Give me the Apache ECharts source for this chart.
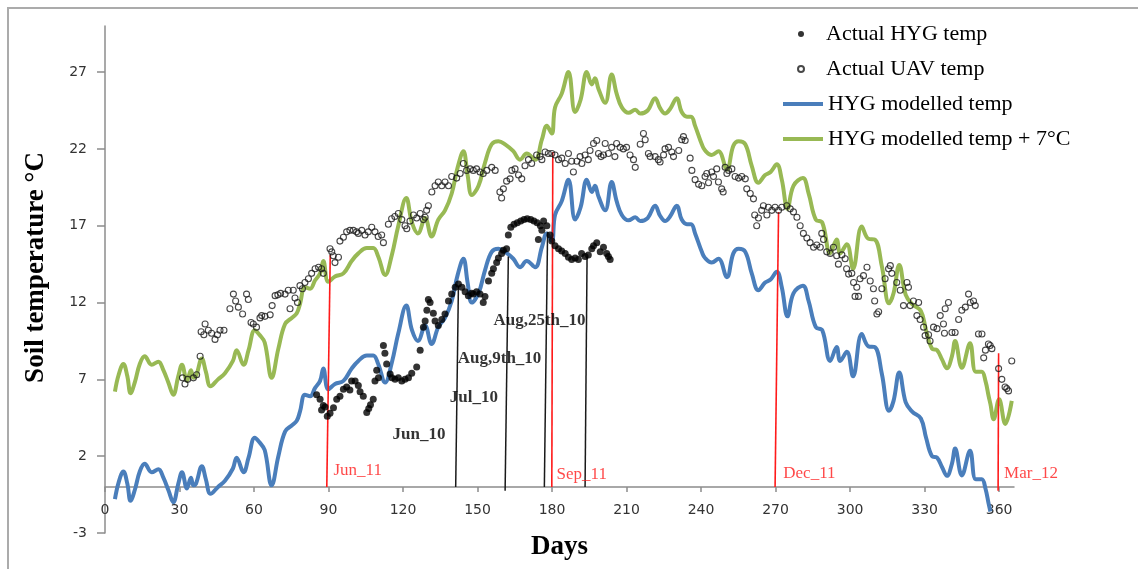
<!DOCTYPE html>
<html>
<head>
<meta charset="utf-8">
<script src="https://cdn.jsdelivr.net/npm/echarts@6/dist/echarts.min.js"></script>
<style>
  html, body { margin: 0; padding: 0; background: #ffffff; }
  #chart { width: 1138px; height: 569px; }
</style>
</head>
<body>
<div id="chart"></div>
<script>
// ---- Axis ticks ----
const dayTicks = [0, 30, 60, 90, 120, 150, 180, 210, 240, 270, 300, 330, 360];
const tempTicks = [-3, 2, 7, 12, 17, 22, 27];

// ---- Modelled soil temperature at the HYG site, [day, °C] ----
const hygModelled = [
  [4,-0.8],[5.5,0.3],[7.4,1.0],[9,0.2],[10.3,-0.9],[12,-0.2],[14,1.0],[16,1.5],[18.8,0.95],[21.5,1.15],
  [23.5,0.6],[25.5,-0.2],[27.5,-1.0],[29.5,0.2],[31,0.95],[33,-0.1],[34.6,0.6],[35.6,0.1],[36.6,0.2],[39,1.35],
  [40.6,0.5],[42.5,-0.45],[45.5,0.0],[48.3,0.4],[51.5,1.2],[53,1.9],[55.8,0.95],[57.8,1.9],[60.3,3.2],[62.2,2.9],
  [64.3,2.4],[67.1,0.1],[69.8,2.0],[72.5,3.6],[75.2,4.0],[77.2,4.3],[78.5,4.9],[80.5,6.0],[82.6,5.9],[84.6,6.45],
  [86.6,6.9],[87.9,7.7],[89.9,6.35],[92.6,6.7],[96,6.9],[99.3,7.7],[102,8.2],[105.4,8.55],[108,8.55],[110,8.0],
  [112.8,6.8],[115.5,8.1],[118.1,10.0],[121.3,11.8],[123.6,10.2],[126,9.5],[128.9,10.5],[131.5,9.3],[134.2,10.4],[136.9,11.0],
  [139.6,12.1],[142,13.8],[144.3,14.85],[146,13.3],[147.7,12.0],[150.4,12.6],[153,14.1],[155.7,15.3],[158.4,15.5],[161.1,15.3],
  [164.4,14.85],[167.1,14.3],[169.8,14.7],[173.2,14.3],[175.9,15.6],[177.9,16.5],[179.9,16.0],[181.2,17.7],[183.9,18.6],[186.6,20.0],
  [189.3,17.4],[191.5,18.2],[194,20.0],[196,19.2],[197.3,19.6],[198.7,18.9],[201.4,18.0],[204,19.85],[206,18.6],[208.1,17.7],
  [210.8,17.35],[213.5,17.55],[215.5,17.3],[218.5,17.5],[221.5,18.3],[223.5,17.65],[225.5,17.3],[227.5,17.6],[230.2,18.3],[232.2,17.4],
  [234.3,17.1],[236,17.1],[237.6,16.5],[240.3,15.3],[241.6,14.9],[244.3,14.6],[247,14.85],[250.4,13.65],[253,15.2],[255.1,15.5],
  [257.8,15.3],[260.4,13.9],[263.1,12.8],[265.8,13.3],[268,13.5],[270.5,14.0],[272.5,13.0],[274.8,11.1],[277.2,12.6],[281,13.1],
  [283.3,12.1],[286.2,10.4],[288.8,10.2],[292,8.2],[294.6,9.1],[296,8.2],[298.7,8.8],[301.2,7.2],[304.7,9.95],[307.4,9.15],
  [310,9.1],[312.8,7.35],[315.7,4.95],[317.5,5.6],[319.8,7.45],[322.4,5.5],[325,4.9],[328.5,4.45],[330.6,3.2],[333,2.0],
  [335,1.9],[337,1.3],[339,0.72],[341,1.5],[342.3,2.5],[345,0.75],[348.3,2.35],[350.6,0.5],[353,0.5],[354.5,-0.1],
  [355.8,-1.1],[356.5,-1.6]
];

// ---- Modelled temperature shifted by +7 °C, [day, °C] ----
const hygModelledPlus7 = [
  [4,6.2],[5.5,7.3],[7.4,8.0],[9,7.2],[10.3,6.1],[12,6.8],[14,8.0],[16,8.5],[18.8,7.95],[21.5,8.15],
  [23.5,7.6],[25.5,6.8],[27.5,6.0],[29.5,7.2],[31,7.95],[33,6.9],[34.6,7.6],[35.6,7.1],[36.6,7.2],[39,8.35],
  [40.6,7.5],[42.5,6.55],[45.5,7.0],[48.3,7.4],[51.5,8.2],[53,8.9],[55.8,7.95],[57.8,8.9],[60.3,10.2],[62.2,9.9],
  [64.3,9.4],[67.1,7.1],[69.8,9.0],[72.5,10.6],[75.2,11.0],[77.2,11.3],[78.5,11.9],[80.5,13.0],[82.6,12.9],[84.6,13.45],
  [86.6,13.9],[87.9,14.7],[89.9,13.35],[92.6,13.7],[96,13.9],[99.3,14.7],[102,15.2],[105.4,15.55],[108,15.55],[110,15.0],
  [112.8,13.8],[115.5,15.1],[118.1,17.0],[121.3,18.8],[123.6,17.2],[126,16.5],[128.9,17.5],[131.5,16.3],[134.2,17.4],[136.9,18.0],
  [139.6,19.1],[142,20.8],[144.3,21.85],[146,20.3],[147.7,19.0],[150.4,19.6],[153,21.1],[155.7,22.3],[158.4,22.5],[161.1,22.3],
  [164.4,21.85],[167.1,21.3],[169.8,21.7],[173.2,21.3],[175.9,22.6],[177.9,23.5],[179.9,23.0],[181.2,24.7],[183.9,25.6],[186.6,27.0],
  [189.3,24.4],[191.5,25.2],[194,27.0],[196,26.2],[197.3,26.6],[198.7,25.9],[201.4,25.0],[204,26.85],[206,25.6],[208.1,24.7],
  [210.8,24.35],[213.5,24.55],[215.5,24.3],[218.5,24.5],[221.5,25.3],[223.5,24.65],[225.5,24.3],[227.5,24.6],[230.2,25.3],[232.2,24.4],
  [234.3,24.1],[236,24.1],[237.6,23.5],[240.3,22.3],[241.6,21.9],[244.3,21.6],[247,21.85],[250.4,20.65],[253,22.2],[255.1,22.5],
  [257.8,22.3],[260.4,20.9],[263.1,19.8],[265.8,20.3],[268,20.5],[270.5,21.0],[272.5,20.0],[274.8,18.1],[277.2,19.6],[281,20.1],
  [283.3,19.1],[286.2,17.4],[288.8,17.2],[292,15.2],[294.6,16.1],[296,15.2],[298.7,15.8],[301.2,14.2],[304.7,16.95],[307.4,16.15],
  [310,16.1],[312.8,14.35],[315.7,11.95],[317.5,12.6],[319.8,14.45],[322.4,12.5],[325,11.9],[328.5,11.45],[330.6,10.2],[333,9.0],
  [335,8.9],[337,8.3],[339,7.72],[341,8.5],[342.3,9.5],[345,7.75],[348.3,9.35],[350.6,7.5],[353,7.5],[354.5,6.9],
  [355.8,5.9],[356.5,5.4],[357.8,4.4],[360,5.7],[362.5,4.1],[365.1,5.6]
];

// ---- Measured soil temperature at the HYG site, [day, °C] ----
const hygActual = [
  [85.2,6.0],[86.6,5.7],[87.2,5.0],[87.9,5.3],[88.6,5.2],[89.5,4.6],[90.6,4.8],[92,5.15],[93.3,5.7],[94.6,5.9],
  [96,6.35],[97.3,6.5],[98.6,6.3],[99.3,6.9],[100.7,6.9],[102,6.6],[102.7,6.2],[104,5.9],[105.4,4.85],[106.2,5.1],
  [106.9,5.35],[108,5.7],[108.7,6.9],[109.4,7.6],[110.1,7.1],[112.1,9.2],[112.7,8.7],[113.4,8.0],[114.8,7.35],[115.5,7.1],
  [116.8,7.0],[118.1,7.1],[119.5,6.9],[120.8,7.0],[122.2,7.1],[123.5,7.4],[125.5,7.8],[126.9,8.9],[128.2,10.4],[128.9,10.8],
  [129.6,11.5],[130.2,12.2],[130.9,12.0],[132.2,11.3],[132.9,10.8],[134.2,10.5],[135.6,10.9],[136.9,11.25],[138.3,12.1],[139.6,12.55],
  [141,13.0],[142.3,13.2],[143.7,13.0],[145,12.7],[146.3,12.45],[147.6,12.6],[148.3,12.55],[149.6,12.7],[151,12.55],[152.3,12.0],
  [153,12.4],[154.4,13.4],[155.7,13.9],[156.4,14.2],[157.7,14.6],[158.4,14.9],[159.7,15.2],[160.4,15.4],[161.7,15.5],[162.4,16.4],
  [163.4,16.9],[164.7,17.1],[166,17.2],[167.4,17.3],[168.7,17.4],[170,17.45],[171.4,17.4],[172.7,17.3],[174,17.2],[174.5,16.1],
  [175.3,17.0],[175.9,16.7],[176.6,17.3],[177.9,17.0],[179.2,16.4],[179.9,16.0],[181.2,15.7],[182.6,15.5],[183.9,15.35],[185.3,15.2],
  [186.6,14.95],[187.9,14.8],[189.3,14.9],[190.6,14.8],[191.9,15.2],[193.3,15.0],[194.6,15.1],[196,15.5],[196.7,15.7],[198,15.9],
  [199.4,15.3],[200.7,15.6],[202,15.2],[202.7,15.0],[203.4,14.8]
];

// ---- Soil temperature derived from UAV imagery, [day, °C] ----
const uavActual = [
  [31.2,7.1],[32.2,6.7],[33.3,7.0],[35.6,7.1],[36.9,7.3],[38.3,8.5],[38.7,10.1],[39.8,9.9],[40.3,10.6],[41.6,10.2],
  [42.9,10.0],[44.3,9.6],[45.3,9.9],[46.3,10.2],[47.9,10.2],[50.3,11.6],[51.7,12.55],[52.6,12.1],[53.7,11.7],[55.4,11.25],
  [57,12.55],[57.7,12.2],[58.8,10.7],[59.7,10.6],[61,10.4],[62.4,11.0],[63.1,11.15],[64.4,11.1],[66.5,11.2],[67.3,11.8],
  [68.5,12.45],[69.6,12.5],[70.7,12.6],[72.5,12.55],[73.8,12.8],[74.5,11.6],[75.8,12.8],[76.5,12.3],[77.5,12.0],[78.5,13.1],
  [79.5,12.9],[80.5,13.3],[81.9,13.55],[83.2,13.9],[84.6,14.2],[86,14.3],[87.2,14.2],[87.9,13.9],[90.6,15.5],[91.3,15.3],
  [91.9,15.05],[92.6,14.6],[94,14.95],[94.6,16.0],[96,16.25],[97.3,16.6],[98.6,16.7],[100,16.7],[101.3,16.6],[102,16.5],
  [103.4,16.7],[104.7,16.4],[106,16.6],[107.4,16.9],[108.7,16.6],[110,16.3],[111.4,16.4],[112.1,15.9],[114.1,17.1],[115.4,17.45],
  [116.7,17.6],[118.1,17.8],[119.5,17.4],[120.8,17.0],[121.5,16.8],[122.8,17.3],[124.2,17.7],[125.5,17.5],[126.9,17.8],[128.2,17.4],
  [128.9,17.55],[129.5,18.0],[130.2,18.3],[131.6,19.2],[132.9,19.6],[134.2,19.85],[135.6,19.6],[136.9,19.85],[138.3,19.6],[139.6,20.2],
  [141.6,20.1],[143,20.4],[144.3,21.05],[145.6,20.6],[147,20.7],[148.3,20.6],[149.6,20.7],[151,20.5],[152.3,20.4],[153.7,20.6],
  [155.7,20.8],[157.1,20.6],[159,19.2],[159.7,18.8],[160.4,19.4],[161.7,19.9],[163.1,20.05],[163.8,20.6],[165.1,20.7],[166.5,20.3],
  [167.8,20.05],[169.1,20.9],[170.5,21.3],[171.8,21.05],[173.8,21.6],[175.2,21.5],[175.9,21.3],[177.2,21.8],[178.5,21.7],[179.9,21.7],
  [181.2,21.6],[182.6,21.3],[183.9,21.4],[185.3,21.05],[186.6,21.7],[187.9,21.2],[188.6,20.5],[190,21.2],[191.3,21.5],[192,21.05],
  [193.3,21.6],[194.6,21.3],[195.3,21.9],[196.7,22.35],[198,22.55],[198.7,21.7],[199.7,21.5],[200.7,21.6],[201.4,22.35],[202.7,21.7],
  [204,22.1],[205.3,21.5],[206,22.35],[207.4,22.1],[208.7,22.0],[210,22.1],[211.4,21.6],[212.8,21.3],[213.5,20.8],[215.5,22.3],
  [216.8,23.0],[217.5,22.6],[218.8,21.7],[219.5,21.5],[221.5,21.5],[222.8,21.3],[223.5,21.15],[224.9,21.6],[225.5,22.0],[226.9,22.1],
  [228.2,21.8],[228.9,21.5],[231,21.9],[232.2,22.6],[232.9,22.8],[233.6,22.55],[235.6,21.4],[236.3,20.6],[237.6,20.0],[239,19.7],
  [240.3,19.6],[241.6,20.2],[242.3,20.4],[243,19.8],[244.3,20.5],[245,20.2],[246.3,20.7],[247,19.85],[248.3,19.4],[248.9,19.2],
  [249.7,20.8],[250.4,20.4],[251.1,20.6],[252.4,20.7],[253.7,20.2],[255.1,20.1],[256.4,20.2],[257.8,20.05],[258.4,19.4],[259.8,19.1],
  [261.1,18.75],[261.6,17.7],[262.4,17.0],[263.1,17.5],[264.4,18.0],[265.1,18.3],[266.5,17.7],[267.1,18.2],[268.5,18.0],[269.8,18.2],
  [271.2,18.0],[272.5,18.2],[274.5,18.3],[275.9,18.1],[277.2,17.9],[278.6,17.55],[279.9,17.0],[281.2,16.5],[282.6,16.2],[283.9,15.9],
  [285.3,15.6],[286.6,15.75],[288,15.6],[288.6,16.5],[289.3,16.1],[290.6,15.3],[292,15.2],[293.3,15.6],[294.6,15.05],[295.3,14.5],
  [296.7,15.1],[298,14.85],[298.6,14.2],[299.4,13.85],[300.7,13.9],[301.4,13.3],[302,12.4],[302.7,13.0],[303.4,12.4],[304,13.55],
  [305.4,13.75],[306.8,14.3],[308.1,13.4],[309.4,12.9],[309.9,12.1],[310.8,11.25],[311.5,11.4],[312.8,12.9],[314.1,13.55],[315.5,14.2],
  [316.2,14.4],[316.8,13.9],[318.8,13.3],[320.2,12.8],[321.5,11.8],[322.9,13.3],[323.5,13.0],[324.2,11.8],[325.5,12.1],[326.9,11.15],
  [327.6,12.0],[328.2,10.9],[329.6,10.4],[330.2,9.85],[331.6,9.9],[332.2,9.5],[333.6,10.4],[335,10.3],[336.3,11.15],[337.6,10.6],
  [338,10.0],[338.3,11.6],[339.6,12.0],[341,10.05],[342.3,10.05],[343.7,10.9],[345,11.5],[346.4,11.7],[347.7,12.55],[348.4,12.0],
  [349.7,12.1],[350.4,11.8],[351.7,9.95],[353.1,9.95],[353.8,8.4],[354.5,8.9],[355.7,9.3],[356.4,9.2],[357.1,9.0],[359.8,7.7],
  [361.1,7.0],[362.4,6.5],[363.1,6.4],[363.8,6.25],[365.1,8.2]
];

// ---- 2010 sampling dates: name, foot [day, °C], head [day, °C] ----
const dates2010 = ['Jun_10', 'Jul_10', 'Aug,9th_10', 'Aug,25th_10'];
const dates2010Foot = [[141.2, 0], [161.1, -0.25], [176.9, 0], [193.3, 0]];
const dates2010Head = [[142.3, 13.1], [162.4, 15.0], [178.2, 16.6], [194.1, 15.0]];

// ---- 2011/12 reference dates ----
const dates2011 = ['Jun_11', 'Sep_11', 'Dec_11', 'Mar_12'];
const dates2011Foot = [[89.3, 0], [179.9, 0], [269.8, 0], [359.6, -0.25]];
const dates2011Head = [[90.7, 15.1], [180.3, 21.8], [271.2, 17.9], [359.8, 8.7]];

// Where each date caption is anchored (data coordinates)
const caption2010At = [[137.3, 3.4], [158.4, 5.8], [175.9, 8.35], [193.7, 10.85]];
const caption2011At = [[91.8, 1.05], [181.6, 0.8], [272.9, 0.85], [361.8, 0.85]];

const SERIF = '"Liberation Serif", "Times New Roman", serif';
const SANS = '"DejaVu Sans", Verdana, sans-serif';
const BLUE = '#4a7ebb';
const GREEN = '#98b954';

function segments(foot, head) {
  return foot.map((f, i) => ({ coords: [f, head[i]] }));
}
function captions(names, at) {
  return names.map((n, i) => ({ name: n, value: at[i] }));
}

const option = {
  backgroundColor: '#ffffff',
  animation: false,
  graphic: [{
    type: 'rect',
    silent: true,
    z: -10,
    shape: { x: 8, y: 8, width: 1140, height: 570 },
    style: { fill: 'none', stroke: '#ababab', lineWidth: 2 }
  }],
  grid: { left: 105, right: 124, top: 26, bottom: 36, containLabel: false, outerBoundsMode: 'none' },
  legend: [
    {
      data: ['Actual HYG temp', 'Actual UAV temp'],
      orient: 'vertical', left: 797, top: 23, padding: 0,
      itemWidth: 40, itemHeight: 6, itemGap: 13,
      icon: 'circle', selectedMode: false,
      textStyle: { fontFamily: SERIF, fontSize: 22, color: '#000' }
    },
    {
      data: ['HYG modelled temp', 'HYG modelled temp + 7°C'],
      orient: 'vertical', left: 783, top: 93, padding: 0,
      itemWidth: 40, itemHeight: 4, itemGap: 13,
      icon: 'rect', selectedMode: false,
      textStyle: { fontFamily: SERIF, fontSize: 22, color: '#000' }
    }
  ],
  xAxis: {
    type: 'value', min: 0, max: 366,
    name: 'Days', nameLocation: 'middle', nameGap: 1, nameMoveOverlap: false,
    nameTextStyle: { fontFamily: SERIF, fontWeight: 'bold', fontSize: 27, color: '#000' },
    axisLine: { show: true, onZero: true, lineStyle: { color: '#8c8c8c', width: 1.5 } },
    axisTick: { show: true, length: 5, customValues: dayTicks, lineStyle: { color: '#8c8c8c', width: 1.5 } },
    axisLabel: { customValues: dayTicks, margin: -30, fontFamily: SANS, fontSize: 14, color: '#333' },
    splitLine: { show: false }
  },
  yAxis: {
    type: 'value', min: -3, max: 30,
    name: 'Soil temperature °C', nameLocation: 'middle', nameGap: 55,
    nameTextStyle: { fontFamily: SERIF, fontWeight: 'bold', fontSize: 27, color: '#000', padding: [0, 0, 0, 24] },
    axisLine: { show: true, lineStyle: { color: '#8c8c8c', width: 1.5 } },
    axisTick: { show: true, length: 8, customValues: tempTicks, lineStyle: { color: '#8c8c8c', width: 1.5 } },
    axisLabel: { customValues: tempTicks, margin: 18, fontFamily: SANS, fontSize: 14, color: '#333' },
    splitLine: { show: false }
  },
  series: [
    {
      name: 'HYG modelled temp', type: 'line', data: hygModelled,
      smooth: 0.4, symbol: 'none', z: 2,
      lineStyle: { color: BLUE, width: 4 }, itemStyle: { color: BLUE }
    },
    {
      name: 'HYG modelled temp + 7°C', type: 'line', data: hygModelledPlus7,
      smooth: 0.4, symbol: 'none', z: 2,
      lineStyle: { color: GREEN, width: 4 }, itemStyle: { color: GREEN }
    },
    {
      name: 'dates2011Lines', type: 'lines', coordinateSystem: 'cartesian2d', z: 3,
      silent: true, symbol: ['none', 'none'],
      lineStyle: { color: '#ff1a1a', width: 1.6, opacity: 1 },
      data: segments(dates2011Foot, dates2011Head)
    },
    {
      name: 'dates2010Lines', type: 'lines', coordinateSystem: 'cartesian2d', z: 3,
      silent: true, symbol: ['none', 'none'],
      lineStyle: { color: '#1a1a1a', width: 1.5, opacity: 1 },
      data: segments(dates2010Foot, dates2010Head)
    },
    {
      name: 'Actual HYG temp', type: 'scatter', data: hygActual, z: 4,
      symbol: 'circle', symbolSize: 7,
      itemStyle: { color: '#000000' }
    },
    {
      name: 'Actual UAV temp', type: 'scatter', data: uavActual, z: 4,
      symbol: 'circle', symbolSize: 6,
      itemStyle: { color: 'rgba(255,255,255,0)', borderColor: '#1a1a1a', borderWidth: 1.1 }
    },
    {
      name: 'dates2010Captions', type: 'scatter', z: 5, silent: true,
      symbolSize: 1, itemStyle: { color: 'rgba(0,0,0,0)' },
      data: captions(dates2010, caption2010At),
      label: {
        show: true, position: 'left', distance: 0, formatter: '{b}',
        fontFamily: SERIF, fontWeight: 'bold', fontSize: 17, color: '#000'
      }
    },
    {
      name: 'dates2011Captions', type: 'scatter', z: 5, silent: true,
      symbolSize: 1, itemStyle: { color: 'rgba(0,0,0,0)' },
      data: captions(dates2011, caption2011At),
      label: {
        show: true, position: 'right', distance: 0, formatter: '{b}',
        fontFamily: SERIF, fontSize: 17, color: '#ff1a1a'
      }
    }
  ]
};

const chart = echarts.init(document.getElementById('chart'));
chart.setOption(option);
</script>
</body>
</html>
